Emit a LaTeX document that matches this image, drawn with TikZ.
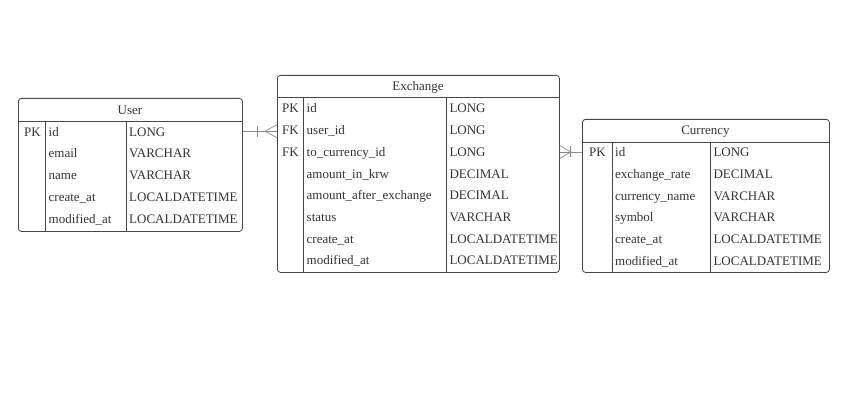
\documentclass[tikz,border=0pt]{standalone}
\usepackage{fontspec}
\setmainfont{Liberation Serif}
\definecolor{linegray}{HTML}{474747}
\definecolor{textgray}{HTML}{333333}
\definecolor{linkgray}{HTML}{8A8A8A}
\begin{document}
\begin{tikzpicture}[x=1pt,y=-1pt,
  frame/.style={draw=linegray,line width=0.8pt,rounded corners=3pt,anchor=north west,inner sep=0pt},
  rule/.style={draw=linegray,line width=0.8pt},
  cell/.style={anchor=west,inner sep=0pt,text=textgray,font=\fontsize{13}{15}\selectfont,text height=13pt,text depth=3pt},
  title/.style={inner sep=0pt,text=textgray,font=\fontsize{13}{15}\selectfont,text height=13pt,text depth=3pt},
  link/.style={draw=linkgray,line width=0.7pt}]
\useasboundingbox (0,0) rectangle (864,414);

% User
\node[frame,minimum width=224,minimum height=133] (user) at (18,98) {};
\draw[rule] (18,121) -- (242,121);
\draw[rule] (45,121) -- (45,231);
\draw[rule] (126,121) -- (126,231);
\node[title] (user-title) at (130,109.5) {User};
\node[cell] (user-pk) at (24,131.2) {PK};
\foreach \n/\t [count=\i from 0] in {id/LONG,email/VARCHAR,name/VARCHAR,create\_at/LOCALDATETIME,modified\_at/LOCALDATETIME}{
  \node[cell] (user-n\i) at (48.5,{131.2+21.8*\i}) {\n};
  \node[cell] (user-t\i) at (129,{131.2+21.8*\i}) {\t};
}

% Exchange
\node[frame,minimum width=282,minimum height=197] (exchange) at (277,75) {};
\draw[rule] (277,97.5) -- (559,97.5);
\draw[rule] (303.3,97.5) -- (303.3,272);
\draw[rule] (446,97.5) -- (446,272);
\node[title] (exchange-title) at (418,86) {Exchange};
\node[cell] (exchange-pk) at (282,108) {PK};
\node[cell] (exchange-fk1) at (282,130) {FK};
\node[cell] (exchange-fk2) at (282,152) {FK};
\foreach \n/\t [count=\i from 0] in {id/LONG,user\_id/LONG,to\_currency\_id/LONG,amount\_in\_krw/DECIMAL,amount\_after\_exchange/DECIMAL,status/VARCHAR,create\_at/LOCALDATETIME,modified\_at/LOCALDATETIME}{
  \node[cell] (exchange-n\i) at (306.5,{108+21.7*\i}) {\n};
  \node[cell] (exchange-t\i) at (449.3,{108+21.7*\i}) {\t};
}

% Currency
\node[frame,minimum width=247,minimum height=153] (currency) at (582,119) {};
\draw[rule] (582,142) -- (829,142);
\draw[rule] (612.3,142) -- (612.3,272);
\draw[rule] (710.3,142) -- (710.3,272);
\node[title] (currency-title) at (705.5,129.5) {Currency};
\node[cell] (currency-pk) at (589,152) {PK};
\foreach \n/\t [count=\i from 0] in {id/LONG,exchange\_rate/DECIMAL,currency\_name/VARCHAR,symbol/VARCHAR,create\_at/LOCALDATETIME,modified\_at/LOCALDATETIME}{
  \node[cell] (currency-n\i) at (615,{152+21.6*\i}) {\n};
  \node[cell] (currency-t\i) at (713.3,{152+21.6*\i}) {\t};
}

% relations
\coordinate (ue-a) at (user.east |- user-n0);
\coordinate (ue-b) at (exchange.west |- user-n0);
\draw[link] (ue-a) -- (ue-b);
\draw[link] (ue-a) ++(15,-5.5) -- ++(0,11);
\draw[link] (ue-b) ++(-12,0) -- ++(12,-6.5) (ue-b) ++(-12,0) -- ++(12,6.5);

\coordinate (ec-a) at (exchange.east |- currency-n0);
\coordinate (ec-b) at (currency.west |- currency-n0);
\draw[link] (ec-a) -- (ec-b);
\draw[link] (ec-a) ++(11,-5.5) -- ++(0,11);
\draw[link] (ec-a) ++(0,-6.5) -- ++(11,6.5) -- ++(-11,6.5);
\end{tikzpicture}
\end{document}
